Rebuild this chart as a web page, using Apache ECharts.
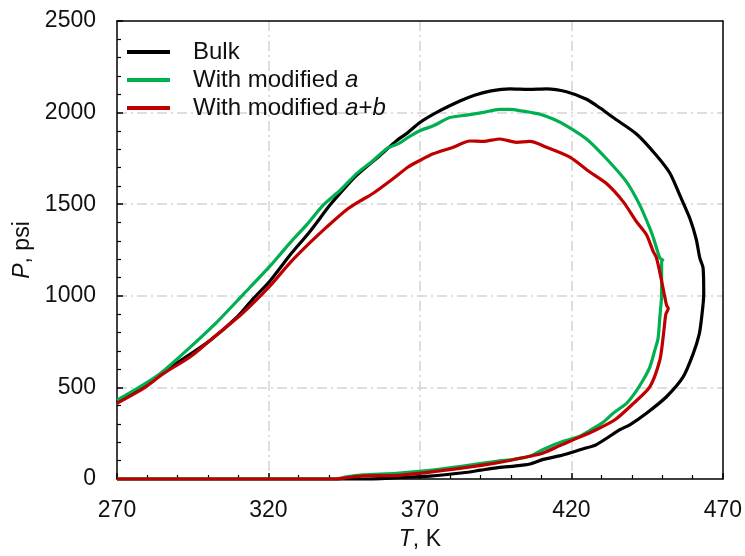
<!DOCTYPE html>
<html>
<head>
<meta charset="utf-8">
<script src="https://cdn.jsdelivr.net/npm/echarts@6/dist/echarts.min.js"></script>
<style>
  html, body { margin: 0; padding: 0; background: #fff; }
  #chart { width: 745px; height: 556px; }
</style>
</head>
<body>
<div id="chart"></div>
<script>
// Phase envelopes, [T (K), P (psi)]
const bulkCurve = [
  [270,420],[274,462],[278.7,503],[285.3,584],[291.9,656],[300.7,756],[309.5,882],[315,985],
  [320.5,1081],[327,1220],[333.7,1351],[340.3,1495],[345,1585],[349.1,1657],[356.8,1766],
  [362.3,1847],[366.1,1892],[370,1946],[376,2005],[383.2,2063],[388,2095],[393.1,2117],
  [399.7,2130],[406,2127],[411.8,2130],[418.4,2114],[425,2073],[429.5,2025],[433.8,1973],
  [441.5,1883],[448.1,1766],[452.5,1670],[455.8,1549],[459.1,1423],[461.2,1310],[462.4,1207],
  [463.5,1150],[463.7,1008],[463,880],[462.2,790],[460.2,683],[456.9,557],[451.4,449],
  [444.8,359],[439.3,296],[436,269],[428.3,188],[424,165],[419.5,142],[416,126],[410.7,107],
  [406.3,82],[401,70],[395.3,61],[390,48],[384.3,34],[373.3,16],[362.3,7],[351.3,0],[270,0]
];
const modACurve = [
  [270,431],[276.6,494],[284.2,575],[293,702],[302.9,855],[311.7,1008],[320.5,1162],[323.8,1225],
  [328,1305],[332.6,1387],[338.1,1495],[343.7,1576],[349.1,1667],[354.6,1739],[359,1802],
  [363.4,1835],[366.1,1865],[370,1901],[374.4,1928],[379.9,1973],[385.4,1986],[390.5,2000],
  [396.4,2018],[399.7,2018],[404,2008],[409.6,1991],[414,1965],[418.4,1928],[425,1856],
  [431.6,1748],[438.2,1622],[442.6,1495],[445.9,1369],[447.2,1310],[449.2,1207],[450.2,1195],
  [449.8,1190],[449.8,1008],[449.2,882],[448.6,765],[447.5,700],[445.9,611],[443.7,540],
  [441,470],[438.2,413],[433.8,359],[430.5,310],[428.3,287],[422.8,233],[417.3,206],
  [410.7,161],[406.3,124],[401,108],[395.3,97],[384.3,70],[373.3,47],[362.3,31],[351.3,22],
  [345.8,12],[342.5,0],[270,0]
];
const modABCurve = [
  [270,413],[278.7,494],[285.3,575],[294.1,666],[300.7,756],[311.7,909],[320.5,1054],[327.1,1180],
  [333.7,1290],[339.2,1375],[345.8,1470],[350,1515],[354.6,1560],[361.2,1640],[366.1,1703],
  [370,1739],[374.4,1775],[381,1811],[386.5,1845],[390.9,1843],[396.4,1856],[401.9,1838],
  [406.3,1843],[411.8,1811],[419.5,1757],[426.1,1676],[431.6,1613],[437.1,1514],[441.5,1405],
  [444.8,1333],[447,1243],[448.1,1207],[449.8,1081],[451.4,950],[452,930],[451.2,900],
  [450.9,864],[450.3,774],[449.2,648],[445.9,503],[440.5,413],[434.5,325],[427.7,265],
  [419.5,206],[416.2,182],[410.7,142],[406.3,124],[395.3,88],[384.3,61],[373.3,38],
  [362.3,20],[351.3,17],[345.8,7],[342.5,0],[270,0]
];

const seriesNames = ['Bulk', 'With modified a', 'With modified a+b'];
const seriesColors = ['#000000', '#00b050', '#c00000'];
const seriesData = [bulkCurve, modACurve, modABCurve];

const xRange = { min: 270, max: 470, step: 50 };
const yRange = { min: 0, max: 2500, step: 500 };

const FONT = "'Liberation Sans', Arial, sans-serif";
const TEXT = '#111';

const gridLine = {
  show: true,
  showMinLine: false,
  showMaxLine: false,
  lineStyle: { color: '#d4d4d4', width: 1.5, type: [10, 4, 2, 4] }
};

const chart = echarts.init(document.getElementById('chart'), null, { renderer: 'canvas' });

chart.setOption({
  animation: false,
  backgroundColor: '#fff',
  grid: { left: 117, right: 22, top: 21, bottom: 73, containLabel: false },
  legend: {
    orient: 'vertical',
    left: 127,
    top: 40,
    padding: 0,
    itemGap: 4,
    itemWidth: 43,
    itemHeight: 4,
    icon: 'rect',
    data: seriesNames,
    formatter: function (name) {
      if (name === 'With modified a') return 'With modified {i|a}';
      if (name === 'With modified a+b') return 'With modified {i|a}+{i|b}';
      return name;
    },
    textStyle: {
      fontFamily: FONT, fontSize: 24, color: TEXT, lineHeight: 24,
      padding: [0, 0, 0, 18],
      rich: { i: { fontFamily: FONT, fontSize: 24, fontStyle: 'italic', color: TEXT } }
    }
  },
  xAxis: [{
    type: 'value',
    min: xRange.min, max: xRange.max, interval: xRange.step,
    name: '{i|T}, K',
    nameLocation: 'middle',
    nameGap: 49,
    nameTextStyle: {
      fontFamily: FONT, fontSize: 23, color: TEXT,
      rich: { i: { fontFamily: FONT, fontSize: 23, fontStyle: 'italic', color: TEXT } }
    },
    axisLine: { show: true, onZero: false, lineStyle: { color: '#000', width: 1.5 } },
    axisTick: { show: true, inside: true, length: 6, lineStyle: { color: '#000', width: 1.5 } },
    minorTick: { show: true, splitNumber: 5, length: 4, lineStyle: { color: '#000', width: 1.2 } },
    axisLabel: { fontFamily: FONT, fontSize: 23, color: TEXT, margin: 20 },
    splitLine: gridLine
  }, {
    type: 'value', position: 'top',
    min: xRange.min, max: xRange.max, interval: xRange.step,
    axisLine: { show: true, onZero: false, lineStyle: { color: '#000', width: 1.5 } },
    axisTick: { show: false }, axisLabel: { show: false }, splitLine: { show: false }
  }],
  yAxis: [{
    type: 'value',
    min: yRange.min, max: yRange.max, interval: yRange.step,
    name: '{i|P}, psi',
    nameLocation: 'middle',
    nameGap: 77,
    nameRotate: 90,
    nameTextStyle: {
      fontFamily: FONT, fontSize: 23, color: TEXT,
      rich: { i: { fontFamily: FONT, fontSize: 23, fontStyle: 'italic', color: TEXT } }
    },
    axisLine: { show: true, onZero: false, lineStyle: { color: '#000', width: 1.5 } },
    axisTick: { show: true, inside: true, length: 6, lineStyle: { color: '#000', width: 1.5 } },
    minorTick: { show: true, splitNumber: 5, length: 4, lineStyle: { color: '#000', width: 1.2 } },
    axisLabel: {
      fontFamily: FONT, fontSize: 23, color: TEXT, margin: 21,
      formatter: function (v) { return String(v); }
    },
    splitLine: gridLine
  }, {
    type: 'value', position: 'right',
    min: yRange.min, max: yRange.max, interval: yRange.step,
    axisLine: { show: true, onZero: false, lineStyle: { color: '#000', width: 1.5 } },
    axisTick: { show: false }, axisLabel: { show: false }, splitLine: { show: false }
  }],
  series: seriesData.map(function (data, i) {
    return {
      name: seriesNames[i],
      type: 'line',
      xAxisIndex: 0,
      yAxisIndex: 0,
      data: data,
      showSymbol: false,
      symbol: 'none',
      smooth: 0.25,
      clip: false,
      z: 3 + i,
      itemStyle: { color: seriesColors[i] },
      lineStyle: { color: seriesColors[i], width: 3.2, join: 'round' }
    };
  })
});
</script>
</body>
</html>
